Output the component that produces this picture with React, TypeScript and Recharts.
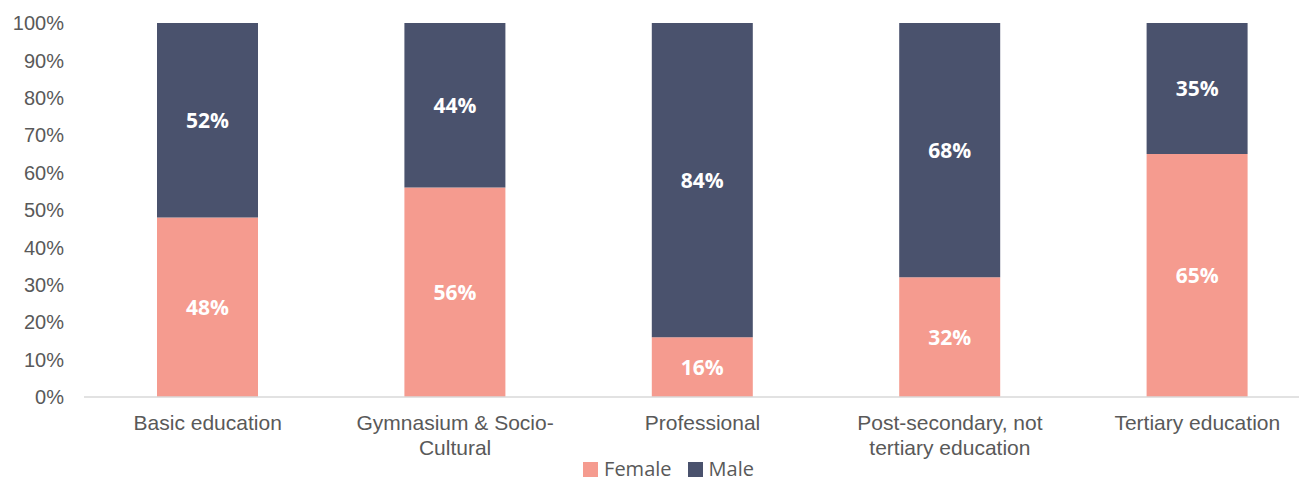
import React from "react";
import { Bar, BarChart, LabelList, Legend, XAxis, YAxis } from "recharts";

const categories = [
  "Basic education",
  "Gymnasium & Socio-Cultural",
  "Professional",
  "Post-secondary, not tertiary education",
  "Tertiary education",
];
const female = [48, 56, 16, 32, 65];
const male = [52, 44, 84, 68, 35];
const yTicks = [0, 10, 20, 30, 40, 50, 60, 70, 80, 90, 100];

const FEMALE_COLOR = "#F59B8F";
const MALE_COLOR = "#4A526D";
const TEXT_COLOR = "#595959";

const data = categories.map((name, i) => ({ name, female: female[i], male: male[i] }));

// break on spaces and after hyphens, like Excel does
function wrapLabel(label: string, maxChars: number): string[] {
  const tokens = label.match(/[^\s-]+-?|\s+/g) || [];
  const lines: string[] = [];
  let cur = "";
  for (const t of tokens) {
    if ((cur + t).trimEnd().length > maxChars && cur.trim()) {
      lines.push(cur.trim());
      cur = t.trimStart();
    } else {
      cur += t;
    }
  }
  if (cur.trim()) lines.push(cur.trim());
  return lines;
}

function CategoryTick(props: any) {
  const { x, y, payload } = props;
  const lines = wrapLabel(String(payload.value), 20);
  return (
    <text x={x} y={y} textAnchor="middle" fill={TEXT_COLOR} fontFamily="'Liberation Sans', Arial, sans-serif" fontSize={21}>
      {lines.map((l, i) => (
        <tspan key={i} x={x} dy={25}>
          {l}
        </tspan>
      ))}
    </text>
  );
}

function LegendContent() {
  const items = [
    { label: "Female", color: FEMALE_COLOR },
    { label: "Male", color: MALE_COLOR },
  ];
  return (
    <div style={{ position: "relative", top: 1, display: "flex", justifyContent: "center", paddingLeft: 24, fontFamily: "'Open Sans', sans-serif", fontSize: 20, color: TEXT_COLOR, lineHeight: "22px" }}>
      {items.map((it) => (
        <div key={it.label} style={{ display: "flex", alignItems: "center", marginRight: 16 }}>
          <span style={{ width: 15, height: 15, background: it.color, display: "inline-block", marginRight: 6 }} />
          {it.label}
        </div>
      ))}
    </div>
  );
}

export default function App() {
  return (
    <div style={{ width: 1299, height: 473, overflow: "hidden" }}>
      <BarChart width={1320} height={473} data={data} margin={{ top: 15, right: 7, left: 0, bottom: 0 }} barSize={101}>
        <XAxis
          dataKey="name"
          tick={<CategoryTick />}
          tickLine={false}
          axisLine={{ stroke: "#D9D9D9", strokeWidth: 1.5 }}
          height={60}
          interval={0}
        />
        <YAxis
          domain={[0, 100]}
          ticks={yTicks}
          tickFormatter={(v) => `${v}%`}
          axisLine={false}
          tickLine={false}
          width={76}
          tickMargin={14}
          interval={0}
          tick={{ fill: TEXT_COLOR, fontSize: 20, fontFamily: "'Liberation Sans', Arial, sans-serif" }}
        />
        <Legend verticalAlign="bottom" height={24} content={<LegendContent />} />
        <Bar dataKey="female" stackId="a" fill={FEMALE_COLOR} isAnimationActive={false}>
          <LabelList dataKey="female" position="center" formatter={(v: any) => `${v}%`} fill="#FFFFFF" fontSize={21} fontWeight={700} fontFamily="'Open Sans', sans-serif" />
        </Bar>
        <Bar dataKey="male" stackId="a" fill={MALE_COLOR} isAnimationActive={false}>
          <LabelList dataKey="male" position="center" formatter={(v: any) => `${v}%`} fill="#FFFFFF" fontSize={21} fontWeight={700} fontFamily="'Open Sans', sans-serif" />
        </Bar>
      </BarChart>
    </div>
  );
}
